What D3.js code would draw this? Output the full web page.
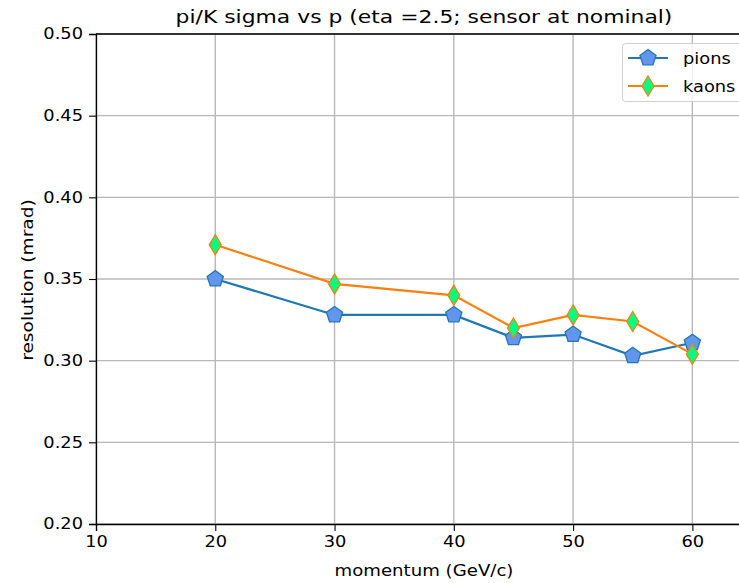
<!DOCTYPE html>
<html>
  <head>
    <script src="https://d3js.org/d3.v7.min.js"></script>
    <style>
      body { margin: 0; background: #fff; }
      svg { font-family: "DejaVu Sans", sans-serif; display: block; }
    </style>
  </head>
  <body>
    <svg width="739" height="583"></svg>
    <script>

      // data
      const momentum = [20, 30, 40, 45, 50, 55, 60];
      const pions = [0.350, 0.328, 0.328, 0.314, 0.316, 0.303, 0.311];
      const kaons = [0.371, 0.347, 0.340, 0.320, 0.328, 0.324, 0.304];
      const xTicks = [10, 20, 30, 40, 50, 60];
      const yTicks = [0.20, 0.25, 0.30, 0.35, 0.40, 0.45, 0.50];

      const plotLeft = 96, plotTop = 34, plotBottom = 524, plotRight = 752;
      const stretch = 1.15; // the reference text is a bit wider than plain DejaVu

      const svg = d3.select('svg');

      const xScale = d3.scaleLinear().domain([10, 65]).range([plotLeft, plotRight]);
      const yScale = d3.scaleLinear().domain([0.20, 0.50]).range([plotBottom, plotTop]);

      // puts a text at (x, y), widened along its own direction
      function wideText(x, y, str, size, sx, rot) {
        return svg.append('text')
          .attr('transform', `translate(${x}, ${y}) rotate(${rot || 0}) scale(${sx}, 1)`)
          .attr('text-anchor', 'middle')
          .style('font-size', size + 'px')
          .text(str);
      }

      // grid
      svg.append('g')
        .selectAll('line')
        .data(xTicks)
        .enter().append('line')
        .attr('x1', d => xScale(d)).attr('x2', d => xScale(d))
        .attr('y1', plotTop).attr('y2', plotBottom)
        .attr('stroke', '#b8b8b8').attr('stroke-width', 1.4);

      svg.append('g')
        .selectAll('line')
        .data(yTicks)
        .enter().append('line')
        .attr('x1', plotLeft).attr('x2', plotRight)
        .attr('y1', d => yScale(d)).attr('y2', d => yScale(d))
        .attr('stroke', '#b8b8b8').attr('stroke-width', 1.4);

      // axes
      const xAxis = svg.append('g')
        .attr('transform', `translate(0, ${plotBottom})`)
        .call(d3.axisBottom(xScale).tickValues(xTicks).tickSize(7).tickPadding(5));
      const yAxis = svg.append('g')
        .attr('transform', `translate(${plotLeft}, 0)`)
        .call(d3.axisLeft(yScale).tickValues(yTicks).tickSize(7).tickPadding(6).tickFormat(d3.format('.2f')));
      [xAxis, yAxis].forEach(a => {
        a.select('.domain').attr('stroke', '#000').attr('stroke-width', 1.3);
        a.selectAll('.tick line').attr('stroke', '#000').attr('stroke-width', 1.1);
        a.selectAll('.tick text').attr('fill', '#000').style('font-size', '15.5px')
          .style('font-family', '"DejaVu Sans", sans-serif');
      });
      yAxis.selectAll('.tick text')
        .attr('x', -13 / stretch)
        .attr('transform', `scale(${stretch}, 1)`);
      xAxis.selectAll('.tick text')
        .attr('transform', `scale(${stretch}, 1)`);

      // top spine
      svg.append('line')
        .attr('x1', plotLeft).attr('x2', plotRight)
        .attr('y1', plotTop).attr('y2', plotTop)
        .attr('stroke', '#000').attr('stroke-width', 1.3);

      // custom marker shapes
      const pentagon = {
        draw(ctx, size) {
          const r = Math.sqrt(size);
          for (let i = 0; i < 5; i++) {
            const a = -Math.PI / 2 + i * 2 * Math.PI / 5;
            if (i === 0) ctx.moveTo(r * Math.cos(a), r * Math.sin(a));
            else ctx.lineTo(r * Math.cos(a), r * Math.sin(a));
          }
          ctx.closePath();
        }
      };
      const thinDiamond = {
        draw(ctx, size) {
          const h = Math.sqrt(size);
          const w = h * 0.6;
          ctx.moveTo(0, -h);
          ctx.lineTo(w, 0);
          ctx.lineTo(0, h);
          ctx.lineTo(-w, 0);
          ctx.closePath();
        }
      };

      const series = [
        { name: 'pions', values: pions, color: '#1f77b4', face: '#6495ed', shape: pentagon, size: 72 },
        { name: 'kaons', values: kaons, color: '#ff7f0e', face: '#00ff7f', shape: thinDiamond, size: 100 }
      ];

      const line = d3.line()
        .x((d, i) => xScale(momentum[i]))
        .y(d => yScale(d));

      series.forEach(s => {
        svg.append('path')
          .datum(s.values)
          .attr('d', line)
          .attr('fill', 'none')
          .attr('stroke', s.color)
          .attr('stroke-width', 2.2);

        svg.append('g')
          .selectAll('path')
          .data(s.values)
          .enter().append('path')
          .attr('transform', (d, i) => `translate(${xScale(momentum[i])}, ${yScale(d)})`)
          .attr('d', d3.symbol().type(s.shape).size(s.size))
          .attr('fill', s.face)
          .attr('stroke', s.color)
          .attr('stroke-width', 1.3);
      });

      // legend
      const legend = svg.append('g');
      legend.append('rect')
        .attr('x', 622.5).attr('y', 43.5)
        .attr('width', 130).attr('height', 58)
        .attr('rx', 3)
        .attr('fill', 'rgba(255,255,255,0.8)')
        .attr('stroke', '#d0d0d0');
      series.forEach((s, i) => {
        const y = 58 + i * 28;
        legend.append('line')
          .attr('x1', 628).attr('x2', 668)
          .attr('y1', y).attr('y2', y)
          .attr('stroke', s.color).attr('stroke-width', 2.2);
        legend.append('path')
          .attr('transform', `translate(648, ${y})`)
          .attr('d', d3.symbol().type(s.shape).size(s.size))
          .attr('fill', s.face)
          .attr('stroke', s.color)
          .attr('stroke-width', 1.3);
        wideText(683, y + 5.5, s.name, 15.5, stretch).attr('text-anchor', 'start');
      });

      // titles
      wideText(424, 23, 'pi/K sigma vs p (eta =2.5; sensor at nominal)', 17.5, 1.25);
      wideText(424, 576, 'momentum (GeV/c)', 15.5, 1.17);
      wideText(33, 280, 'resolution (mrad)', 15.5, 1.2, -90);

    </script>
  </body>
</html>
